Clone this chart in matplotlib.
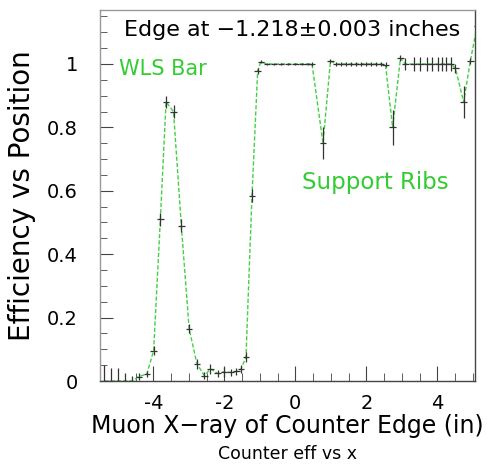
import matplotlib
matplotlib.use('Agg')
import matplotlib.pyplot as plt
from matplotlib.ticker import MultipleLocator, FormatStrFormatter

# counter efficiency vs muon x position (inches)
x_pos = [-5.38, -5.18, -4.99, -4.79, -4.59, -4.41, -4.18, -3.99, -3.80, -3.64,
         -3.43, -3.21, -2.99, -2.77, -2.56, -2.39, -2.19, -2.00, -1.82, -1.66,
         -1.53, -1.39, -1.22, -1.06, -0.97, -0.80, -0.60, -0.40, -0.20, 0.00,
         0.20, 0.35, 0.47, 0.78, 0.99, 1.14, 1.28, 1.42, 1.56, 1.70,
         1.84, 1.98, 2.12, 2.26, 2.40, 2.54, 2.74, 2.96, 3.10, 3.33,
         3.52, 3.71, 3.85, 4.01, 4.13, 4.25, 4.39, 4.51, 4.74, 4.93, 5.12]
eff = [0.0, 0.0, 0.0, 0.0, 0.0, 0.014, 0.022, 0.096, 0.51, 0.88,
       0.85, 0.49, 0.165, 0.054, 0.017, 0.038, 0.024, 0.029, 0.027, 0.030,
       0.038, 0.075, 0.585, 0.978, 1.007, 1.0, 1.0, 1.0, 1.0, 1.0,
       1.0, 1.0, 1.0, 0.75, 1.01, 1.0, 1.0, 1.0, 1.0, 1.0,
       1.0, 1.0, 1.0, 1.0, 1.0, 0.997, 0.80, 1.018, 1.0, 1.0,
       1.0, 1.0, 1.0, 1.0, 1.0, 1.0, 1.0, 0.986, 0.88, 1.01, 1.12]
eff_err = [0.05, 0.04, 0.04, 0.025, 0.015, 0.01, 0.01, 0.015, 0.02, 0.02,
           0.02, 0.02, 0.015, 0.015, 0.01, 0.015, 0.01, 0.015, 0.01, 0.01,
           0.012, 0.015, 0.02, 0.01, 0.005, 0.004, 0.004, 0.004, 0.004, 0.004,
           0.004, 0.004, 0.006, 0.05, 0.006, 0.005, 0.005, 0.005, 0.005, 0.005,
           0.005, 0.005, 0.005, 0.005, 0.005, 0.008, 0.055, 0.01, 0.02, 0.022,
           0.022, 0.022, 0.022, 0.022, 0.022, 0.022, 0.022, 0.015, 0.05, 0.01, 0.02]
x_halfwidth = 0.09

fig = plt.figure(figsize=(5.0, 4.66), dpi=100)
ax = fig.add_axes([0.2, 0.1824, 0.75, 0.796])

ax.plot(x_pos, eff, color='#44d044', lw=1.0, ls=(0, (3, 1.5)), zorder=2)
ax.errorbar(x_pos, eff, yerr=eff_err, xerr=x_halfwidth, fmt='none',
            ecolor='#333333', elinewidth=0.9, capsize=0, zorder=3)

ax.set_xlim(-5.5, 5.06)
ax.set_ylim(0, 1.17)
ax.xaxis.set_major_locator(MultipleLocator(2))
ax.xaxis.set_minor_locator(MultipleLocator(0.5))
ax.yaxis.set_major_locator(MultipleLocator(0.2))
ax.yaxis.set_minor_locator(MultipleLocator(0.05))
ax.yaxis.set_major_formatter(FormatStrFormatter('%g'))
ax.xaxis.set_major_formatter(FormatStrFormatter('%g'))
ax.tick_params(which='both', direction='in', colors='#444444', labelcolor='black')
ax.tick_params(axis='x', which='major', length=11, pad=9, labelsize=14)
ax.tick_params(axis='x', which='minor', length=5.5)
ax.tick_params(axis='y', which='major', length=9.5, pad=16, labelsize=14)
ax.tick_params(axis='y', which='minor', length=5)
for name, side in ax.spines.items():
    side.set_color('#999999' if name in ('left', 'top') else '#444444')
    side.set_linewidth(1.0)

ax.set_ylabel('Efficiency vs Position', fontsize=20, labelpad=8)
ax.set_xlabel('Muon X\u2212ray of Counter Edge (in)', fontsize=17, labelpad=1)
fig.text(0.576, 0.016, 'Counter eff vs x', fontsize=12.5, ha='center')

ax.text(0.512, 0.945, 'Edge at \u22121.218\u00b10.003 inches', transform=ax.transAxes,
        fontsize=16, ha='center', va='center')
ax.text(0.05, 0.84, 'WLS Bar', transform=ax.transAxes, fontsize=15,
        color='#33cc33', ha='left', va='center')
ax.text(0.54, 0.535, 'Support Ribs', transform=ax.transAxes, fontsize=16.5,
        color='#33cc33', ha='left', va='center')

fig.savefig('out.png', dpi=100)
